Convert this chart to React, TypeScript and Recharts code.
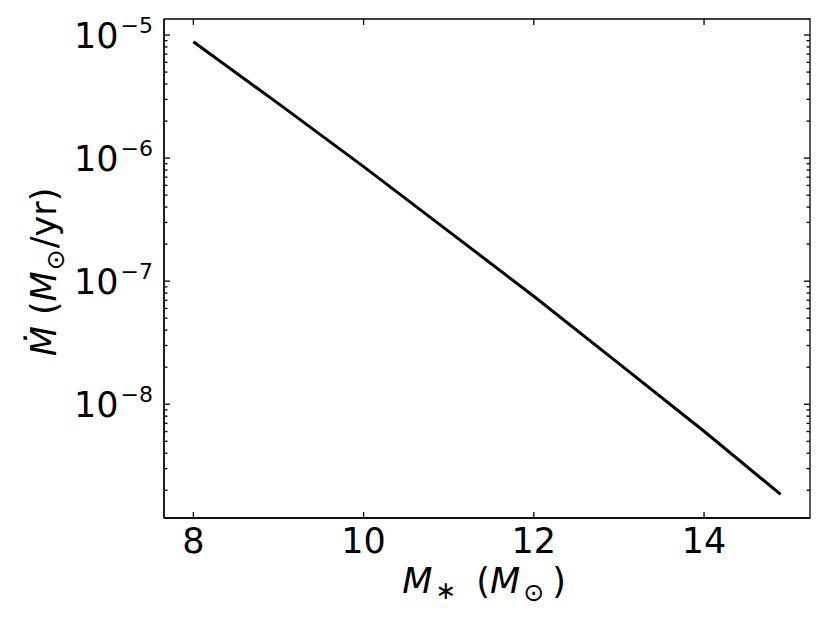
import React from "react";
import { LineChart, Line, XAxis, YAxis, ReferenceArea } from "recharts";

const masses = [8, 9, 10, 11, 12, 13, 14, 14.9];
const massLossRates = [8.83e-6, 2.77e-6, 8.53e-7, 2.54e-7, 7.55e-8, 2.14e-8, 6.03e-9, 1.85e-9];
const xTicks = [8, 10, 12, 14];
const yMajorTicks = [1e-8, 1e-7, 1e-6, 1e-5];
const yMinorMultipliers = [2, 3, 4, 5, 6, 7, 8, 9];
const yMinorDecades = [1e-9, 1e-8, 1e-7, 1e-6];

const X_DOMAIN: [number, number] = [7.655, 15.245];
const Y_DOMAIN: [number, number] = [1.19e-9, 1.35e-5];

const data = masses.map((m, i) => ({ m, mdot: massLossRates[i] }));
const yTicks = [
  ...yMajorTicks,
  ...yMinorDecades.flatMap((d) => yMinorMultipliers.map((k) => k * d)),
].filter((v) => v >= Y_DOMAIN[0] && v <= Y_DOMAIN[1]);

const LEFT = 164;
const RIGHT = 810;
const TOP = 19;
const BOTTOM = 518;
const FONT = "DejaVu Sans, Liberation Sans, sans-serif";

const YTick = (props: any) => {
  const { y, payload } = props;
  const v = payload.value as number;
  const exp = Math.round(Math.log10(v));
  const major = Math.abs(v - Math.pow(10, exp)) / v < 1e-6;
  const len = major ? 6 : 3.5;
  return (
    <g>
      <line x1={LEFT} x2={LEFT + len} y1={y} y2={y} stroke="#000" strokeWidth={1.3} />
      <line x1={RIGHT} x2={RIGHT - len} y1={y} y2={y} stroke="#000" strokeWidth={1.3} />
      {major && (
        <text x={LEFT - 11} y={y + 13} textAnchor="end" fontSize={35} fontFamily={FONT} fill="#000">
          10
          <tspan dx={2} dy={-15} fontSize={22}>
            {"\u2212" + String(-exp)}
          </tspan>
        </text>
      )}
    </g>
  );
};

const XTick = (props: any) => {
  const { x, payload } = props;
  return (
    <g>
      <line x1={x} x2={x} y1={BOTTOM} y2={BOTTOM - 6} stroke="#000" strokeWidth={1.3} />
      <line x1={x} x2={x} y1={TOP} y2={TOP + 6} stroke="#000" strokeWidth={1.3} />
      <text x={x} y={553} textAnchor="middle" fontSize={35} fontFamily={FONT} fill="#000">
        {String(payload.value)}
      </text>
    </g>
  );
};

const XTitle = () => (
  <text x={484} y={593} textAnchor="middle" fontSize={35} fontFamily={FONT} fill="#000">
    <tspan fontStyle="italic">M</tspan>
    <tspan fontSize={25} dx={3} dy={6}>{"\u2217"}</tspan>
    <tspan dx={20} dy={-6}>(</tspan>
    <tspan fontStyle="italic">M</tspan>
    <tspan fontSize={25} dx={3} dy={8}>{"\u2299"}</tspan>
    <tspan dx={8} dy={-8}>)</tspan>
  </text>
);

const YTitle = () => (
  <text
    x={56}
    y={272}
    transform="rotate(-90, 56, 272)"
    textAnchor="middle"
    fontSize={35}
    fontFamily={FONT}
    fill="#000"
  >
    <tspan fontStyle="italic">{"\u1E40"}</tspan>
    <tspan>{" ("}</tspan>
    <tspan fontStyle="italic">M</tspan>
    <tspan fontSize={25} dx={1} dy={8}>{"\u2299"}</tspan>
    <tspan dx={1} dy={-8}>/yr)</tspan>
  </text>
);

export default function App() {
  return (
    <div style={{ position: "absolute", left: 0, top: 0, width: 830, height: 623, background: "#fff" }}>
      <LineChart width={830} height={623} data={data} margin={{ top: 19, right: 20, bottom: 0, left: 0 }}>
        <XAxis
          dataKey="m"
          type="number"
          domain={X_DOMAIN}
          allowDataOverflow
          ticks={xTicks}
          tick={<XTick />}
          tickLine={false}
          axisLine={{ stroke: "#000", strokeWidth: 1.3 }}
          height={105}
          interval={0}
          label={<XTitle />}
        />
        <YAxis
          type="number"
          scale="log"
          domain={Y_DOMAIN}
          allowDataOverflow
          ticks={yTicks}
          tick={<YTick />}
          tickLine={false}
          axisLine={{ stroke: "#000", strokeWidth: 1.3 }}
          width={164}
          interval={0}
          label={<YTitle />}
        />
        <ReferenceArea
          x1={X_DOMAIN[0]}
          x2={X_DOMAIN[1]}
          y1={Y_DOMAIN[0]}
          y2={Y_DOMAIN[1]}
          fill="none"
          stroke="#000"
          strokeWidth={1.3}
          ifOverflow="visible"
        />
        <Line
          dataKey="mdot"
          type="linear"
          stroke="#000"
          strokeWidth={3}
          dot={false}
          isAnimationActive={false}
        />
      </LineChart>
    </div>
  );
}
